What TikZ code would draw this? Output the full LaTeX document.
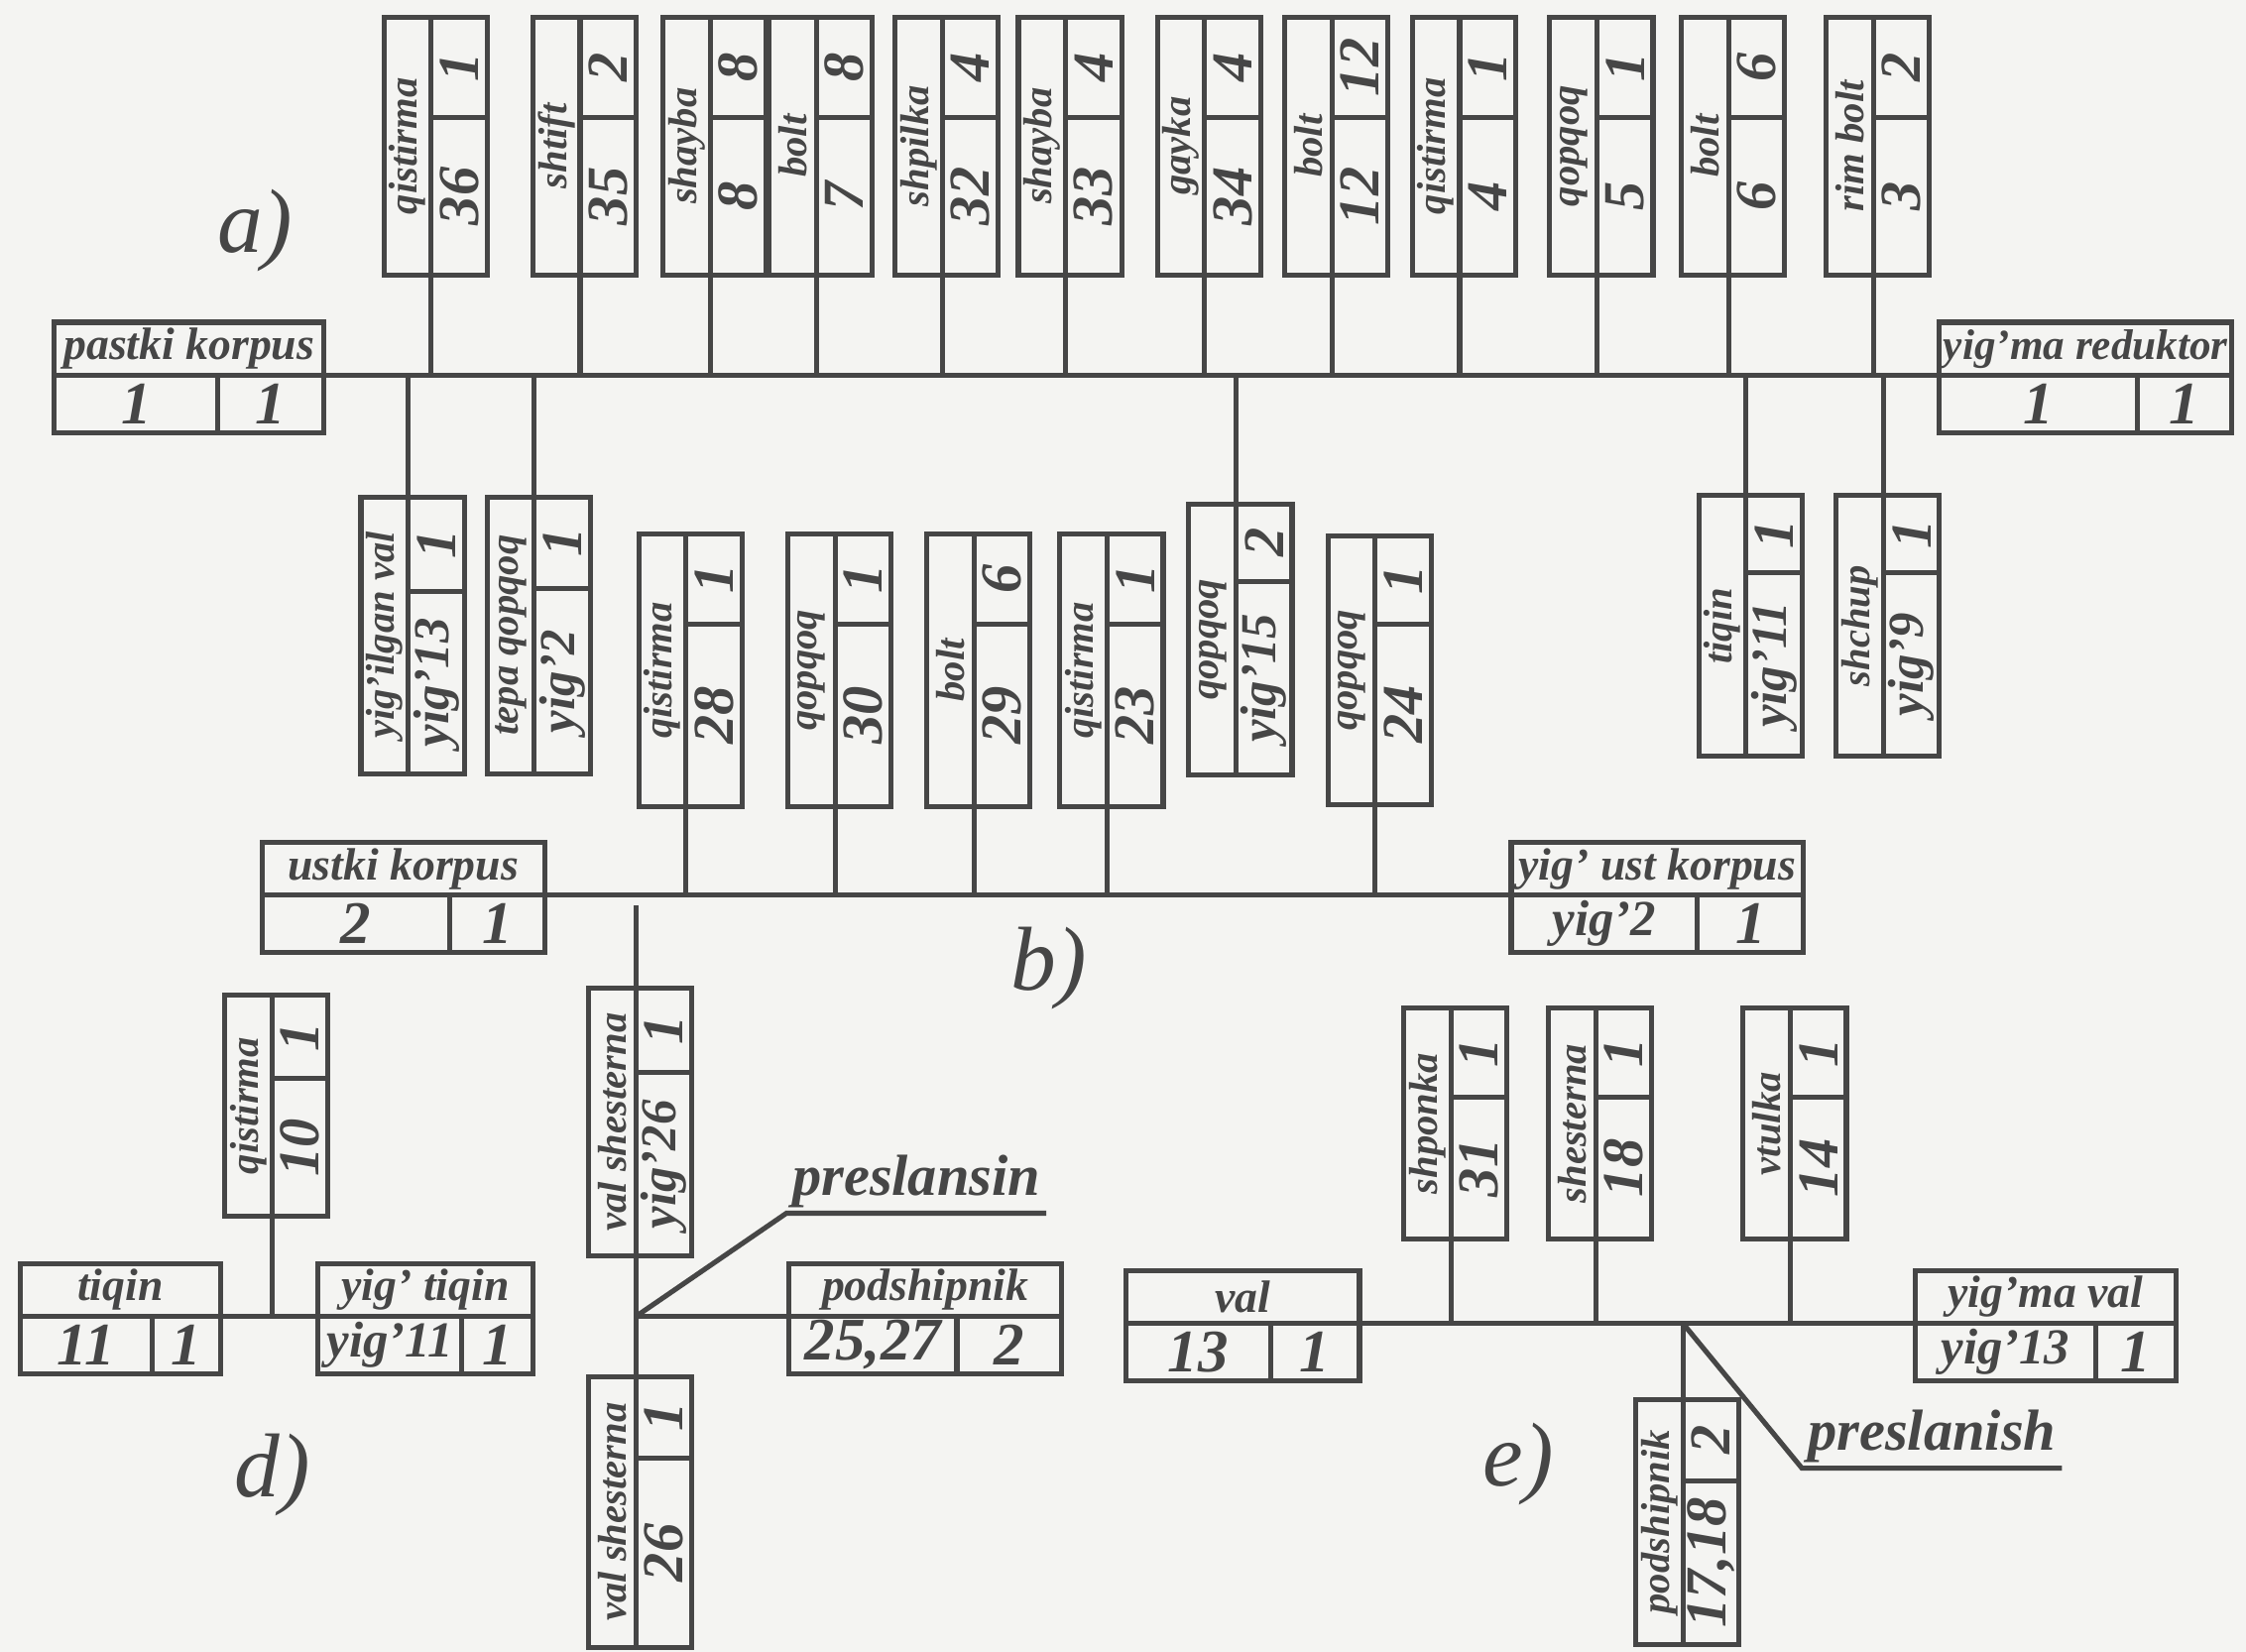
\documentclass[tikz,border=0pt]{standalone}
\usepackage{fontspec}
\setmainfont{Liberation Serif}
\definecolor{ink}{RGB}{70,70,70}
\definecolor{paper}{RGB}{244,244,242}
\tikzset{box/.style={draw=ink,line width=1pt,inner sep=0pt,outer sep=0pt,text=ink},
hc/.style={},vc/.style={rotate=90},
hc head/.style={minimum height=.37cm,font=\fontsize{9}{10}\selectfont\bfseries\itshape},
vc head/.style={minimum height=.33cm,font=\fontsize{8}{9}\selectfont\bfseries\itshape},
hc row/.style={minimum height=.40cm,font=\fontsize{12}{13}\selectfont\bfseries\itshape},
vc row/.style={minimum height=.39cm,font=\fontsize{11.5}{12}\selectfont\bfseries\itshape},
link/.style={draw=ink,line width=1pt},
lbl/.style={text=ink,font=\fontsize{11.5}{12}\selectfont\bfseries\itshape,inner sep=1pt},
tag/.style={text=ink,font=\fontsize{18}{19}\selectfont\itshape}}
\newcommand{\yig}[1]{{\fontsize{10}{11}\selectfont yig'#1}}
% #1 name, #2 hc/vc, #3 divider start, #4 length, #5 number cell, #6 title, #7 number, #8 qty
\newcommand{\card}[8]{%
\node[box,#2,#2 head,minimum width=#4,anchor=south west] (#1) at #3 {#6};
\node[box,#2,#2 row,minimum width=#5,anchor=north west] (#1n) at (#1.south west) {#7};
\node[box,#2,#2 row,minimum width=#4-#5,anchor=north west] (#1q) at (#1n.north east) {#8};}

\begin{document}
\begin{tikzpicture}[x=.01cm,y=-.01cm]
\useasboundingbox (0,0) rectangle (1568,1153);
\fill[paper] (0,0) rectangle (1568,1153);
% a)
\card{pk}{hc}{(38,262)}{1.88cm}{1.14cm}{pastki korpus}{1}{1}
\card{yr}{hc}{(1354,262)}{2.04cm}{1.38cm}{{\fontsize{8.5}{9}\selectfont yig'ma reduktor}}{1}{1}
\card{q36}{vc}{(301,192)}{1.80cm}{1.10cm}{qistirma}{36}{1}
\card{sh35}{vc}{(405,192)}{1.80cm}{1.10cm}{shtift}{35}{2}
\card{sb8}{vc}{(496,192)}{1.80cm}{1.10cm}{shayba}{8}{8}
\card{b7}{vc}{(570,192)}{1.80cm}{1.10cm}{bolt}{7}{8}
\card{sp32}{vc}{(658,192)}{1.80cm}{1.10cm}{shpilka}{32}{4}
\card{sb33}{vc}{(744,192)}{1.80cm}{1.10cm}{shayba}{33}{4}
\card{g34}{vc}{(841,192)}{1.80cm}{1.10cm}{gayka}{34}{4}
\card{b12}{vc}{(930,192)}{1.80cm}{1.10cm}{bolt}{12}{12}
\card{q4}{vc}{(1019,192)}{1.80cm}{1.10cm}{qistirma}{4}{1}
\card{qq5}{vc}{(1115,192)}{1.80cm}{1.10cm}{qopqoq}{5}{1}
\card{b6}{vc}{(1207,192)}{1.80cm}{1.10cm}{bolt}{6}{6}
\card{rb3}{vc}{(1308,192)}{1.80cm}{1.10cm}{rim bolt}{3}{2}
\card{yv13}{vc}{(285,540)}{1.93cm}{1.27cm}{yig'ilgan val}{\yig{13}}{1}
\card{tq2}{vc}{(373,540)}{1.93cm}{1.29cm}{tepa qopqoq}{\yig{2}}{1}
\card{qq15}{vc}{(863,541)}{1.89cm}{1.35cm}{qopqoq}{\yig{15}}{2}
\card{ti11}{vc}{(1219,528)}{1.82cm}{1.28cm}{tiqin}{\yig{11}}{1}
\card{sc9}{vc}{(1315,528)}{1.82cm}{1.28cm}{shchup}{\yig{9}}{1}
\draw[link] (pk.south east) -- (yr.south west);
\foreach \c in {q36,sh35,sb8,b7,sp32,sb33,g34,b12,q4,qq5,b6,rb3}
\draw[link] (\c.south west) -- (\c.south west |- pk.south east);
\foreach \c in {yv13,tq2,qq15,ti11,sc9}
\draw[link] (\c.south east) -- (\c.south east |- pk.south east);
\node[tag] (ta) at (178,161) {a)};
% b)
\card{uk}{hc}{(183,625)}{1.97cm}{1.31cm}{ustki korpus}{2}{1}
\card{yuk}{hc}{(1055,625)}{2.04cm}{1.30cm}{yig' ust korpus}{\yig{2}}{1}
\card{q28}{vc}{(479,563)}{1.90cm}{1.27cm}{qistirma}{28}{1}
\card{qq30}{vc}{(583,563)}{1.90cm}{1.27cm}{qopqoq}{30}{1}
\card{b29}{vc}{(680,563)}{1.90cm}{1.27cm}{bolt}{29}{6}
\card{q23}{vc}{(773,563)}{1.90cm}{1.27cm}{qistirma}{23}{1}
\card{qq24}{vc}{(960,562)}{1.88cm}{1.26cm}{qopqoq}{24}{1}
\draw[link] (uk.south east) -- (yuk.south west);
\foreach \c in {q28,qq30,b29,q23,qq24}
\draw[link] (\c.south west) -- (\c.south west |- uk.south east);
\node[tag] (tb) at (732,676) {b)};
% d)
\card{ti}{hc}{(14,919)}{1.40cm}{.92cm}{tiqin}{11}{1}
\card{yt}{hc}{(222,919)}{1.50cm}{1.00cm}{yig' tiqin}{\yig{11}}{1}
\card{pd}{hc}{(551,919)}{1.90cm}{1.17cm}{podshipnik}{25,27}{2}
\card{q10}{vc}{(190,849)}{1.54cm}{.96cm}{qistirma}{10}{1}
\card{vy26}{vc}{(444,877)}{1.87cm}{1.28cm}{val shesterna}{\yig{26}}{1}
\card{vs26}{vc}{(444,1150)}{1.89cm}{1.32cm}{val shesterna}{26}{1}
\coordinate (dtop) at (444,632);
\coordinate (dj) at (vy26.south west |- pd.south west);
\draw[link] (dtop) -- (vy26.south east);
\draw[link] (vy26.south west) -- (vs26.south east);
\draw[link] (dj) -- (pd.south west);
\draw[link] (ti.south east) -- (yt.south west);
\draw[link] (q10.south west) -- (q10.south west |- ti.south east);
\node[lbl,anchor=south west] (tps) at (549,847) {preslansin};
\draw[link] (dj) -- (tps.south west) -- (tps.south east);
\node[tag] (td) at (190,1030) {d)};
% e)
\card{val}{hc}{(786,924)}{1.63cm}{1.01cm}{val}{13}{1}
\card{yv}{hc}{(1337,924)}{1.82cm}{1.26cm}{yig'ma val}{\yig{13}}{1}
\card{sk31}{vc}{(1013,865)}{1.61cm}{.99cm}{shponka}{31}{1}
\card{st18}{vc}{(1114,865)}{1.61cm}{.99cm}{shesterna}{18}{1}
\card{vt14}{vc}{(1250,865)}{1.61cm}{.99cm}{vtulka}{14}{1}
\card{p1718}{vc}{(1175,1148)}{1.71cm}{1.14cm}{podshipnik}{17,18}{2}
\draw[link] (val.south east) -- (yv.south west);
\foreach \c in {sk31,st18,vt14}
\draw[link] (\c.south west) -- (\c.south west |- val.south east);
\coordinate (ej) at (p1718.south east |- val.south east);
\draw[link] (ej) -- (p1718.south east);
\node[lbl,anchor=south west] (tpl) at (1258,1025) {preslanish};
\draw[link] (ej) -- (tpl.south west) -- (tpl.south east);
\node[tag] (te) at (1060,1022) {e)};
\end{tikzpicture}
\end{document}
